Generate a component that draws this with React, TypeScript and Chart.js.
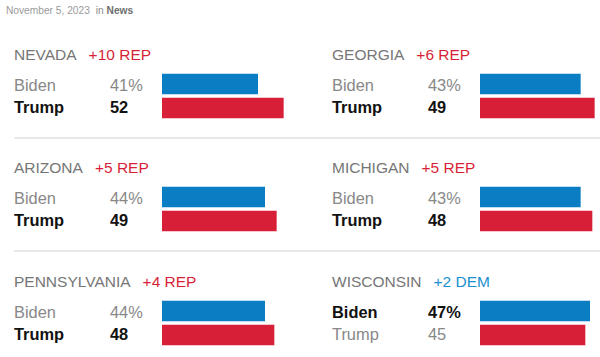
import React, { useEffect, useRef } from "react";
import { Chart, registerables } from "chart.js";

Chart.register(...registerables);

const states = ["NEVADA", "GEORGIA", "ARIZONA", "MICHIGAN", "PENNSYLVANIA", "WISCONSIN"];
const candidates = ["Biden", "Trump"];
const bidenPct = [41, 43, 44, 43, 44, 47];
const trumpPct = [52, 49, 49, 48, 48, 45];
const marginLabels = ["+10 REP", "+6 REP", "+5 REP", "+5 REP", "+4 REP", "+2 DEM"];
const headerDate = "November 5, 2023";
const headerSection = "News";

const BLUE = "#0a7dc3";
const RED = "#d81f38";
const FONT = "'Liberation Sans', Arial, sans-serif";

function BarChart({ values }: { values: number[] }) {
  const ref = useRef<HTMLCanvasElement>(null);
  useEffect(() => {
    if (!ref.current) return;
    const chart = new Chart(ref.current, {
      type: "bar",
      data: {
        labels: candidates,
        datasets: [
          {
            data: values,
            backgroundColor: [BLUE, RED],
            barThickness: 20,
            borderWidth: 0,
          },
        ],
      },
      options: {
        indexAxis: "y",
        responsive: false,
        animation: false,
        devicePixelRatio: 1,
        layout: { padding: 0 },
        plugins: { legend: { display: false }, tooltip: { enabled: false } },
        scales: {
          x: { display: false, min: 0, max: 60 },
          y: { display: false },
        },
      },
    });
    return () => chart.destroy();
  }, []);
  return <canvas ref={ref} width={140} height={48} style={{ width: 140, height: 48, display: "block" }} />;
}

function Panel({ idx }: { idx: number }) {
  const col = idx % 2;
  const row = Math.floor(idx / 2);
  const x0 = col * 318;
  const y0 = Math.round(row * 113.4);
  const b = bidenPct[idx];
  const t = trumpPct[idx];
  const marginText = marginLabels[idx];
  const marginColor = marginText.includes("REP") ? RED : "#1a8fd1";
  const bidenLead = b > t;
  const text = (bold: boolean) => ({
    color: bold ? "#121212" : "#888888",
    fontWeight: bold ? 700 : 400,
  });
  const rowFont = 16.4;
  return (
    <>
      <div style={{ position: "absolute", left: x0 + 14, top: y0 + 44.5, lineHeight: "20px", fontSize: 15.5, whiteSpace: "nowrap" }}>
        <span style={{ color: "#767676" }}>{states[idx]}</span>
        <span style={{ color: marginColor, marginLeft: 12 }}>{marginText}</span>
      </div>
      <div style={{ position: "absolute", left: x0 + 14, top: y0 + 75, lineHeight: "20px", fontSize: rowFont, ...text(bidenLead) }}>
        {candidates[0]}
      </div>
      <div style={{ position: "absolute", left: x0 + 110, top: y0 + 75, lineHeight: "20px", fontSize: rowFont, ...text(bidenLead) }}>
        {b}%
      </div>
      <div style={{ position: "absolute", left: x0 + 14, top: y0 + 96.5, lineHeight: "20px", fontSize: rowFont, ...text(!bidenLead) }}>
        {candidates[1]}
      </div>
      <div style={{ position: "absolute", left: x0 + 110, top: y0 + 96.5, lineHeight: "20px", fontSize: rowFont, ...text(!bidenLead) }}>
        {t}
      </div>
      <div style={{ position: "absolute", left: x0 + 161.5, top: y0 + 72 }}>
        <BarChart values={[b, t]} />
      </div>
    </>
  );
}

export default function App() {
  return (
    <div style={{ position: "fixed", left: 0, top: 0, width: 600, height: 357, background: "#fff", fontFamily: FONT, overflow: "hidden" }}>
      <div style={{ position: "absolute", left: 6, top: 3, lineHeight: "16px", fontSize: 10.2, whiteSpace: "nowrap" }}>
        <span style={{ color: "#9a9a9a" }}>{headerDate}</span>
        <span style={{ color: "#8a8a8a", marginLeft: 6 }}>in </span>
        <span style={{ color: "#6e6e6e", fontWeight: 700 }}>{headerSection}</span>
      </div>
      {[137, 250].map((y) => (
        <div key={y} style={{ position: "absolute", left: 14, top: y, width: 586, height: 2, background: "#e8e8e8" }} />
      ))}
      {states.map((_, i) => (
        <Panel key={i} idx={i} />
      ))}
    </div>
  );
}
